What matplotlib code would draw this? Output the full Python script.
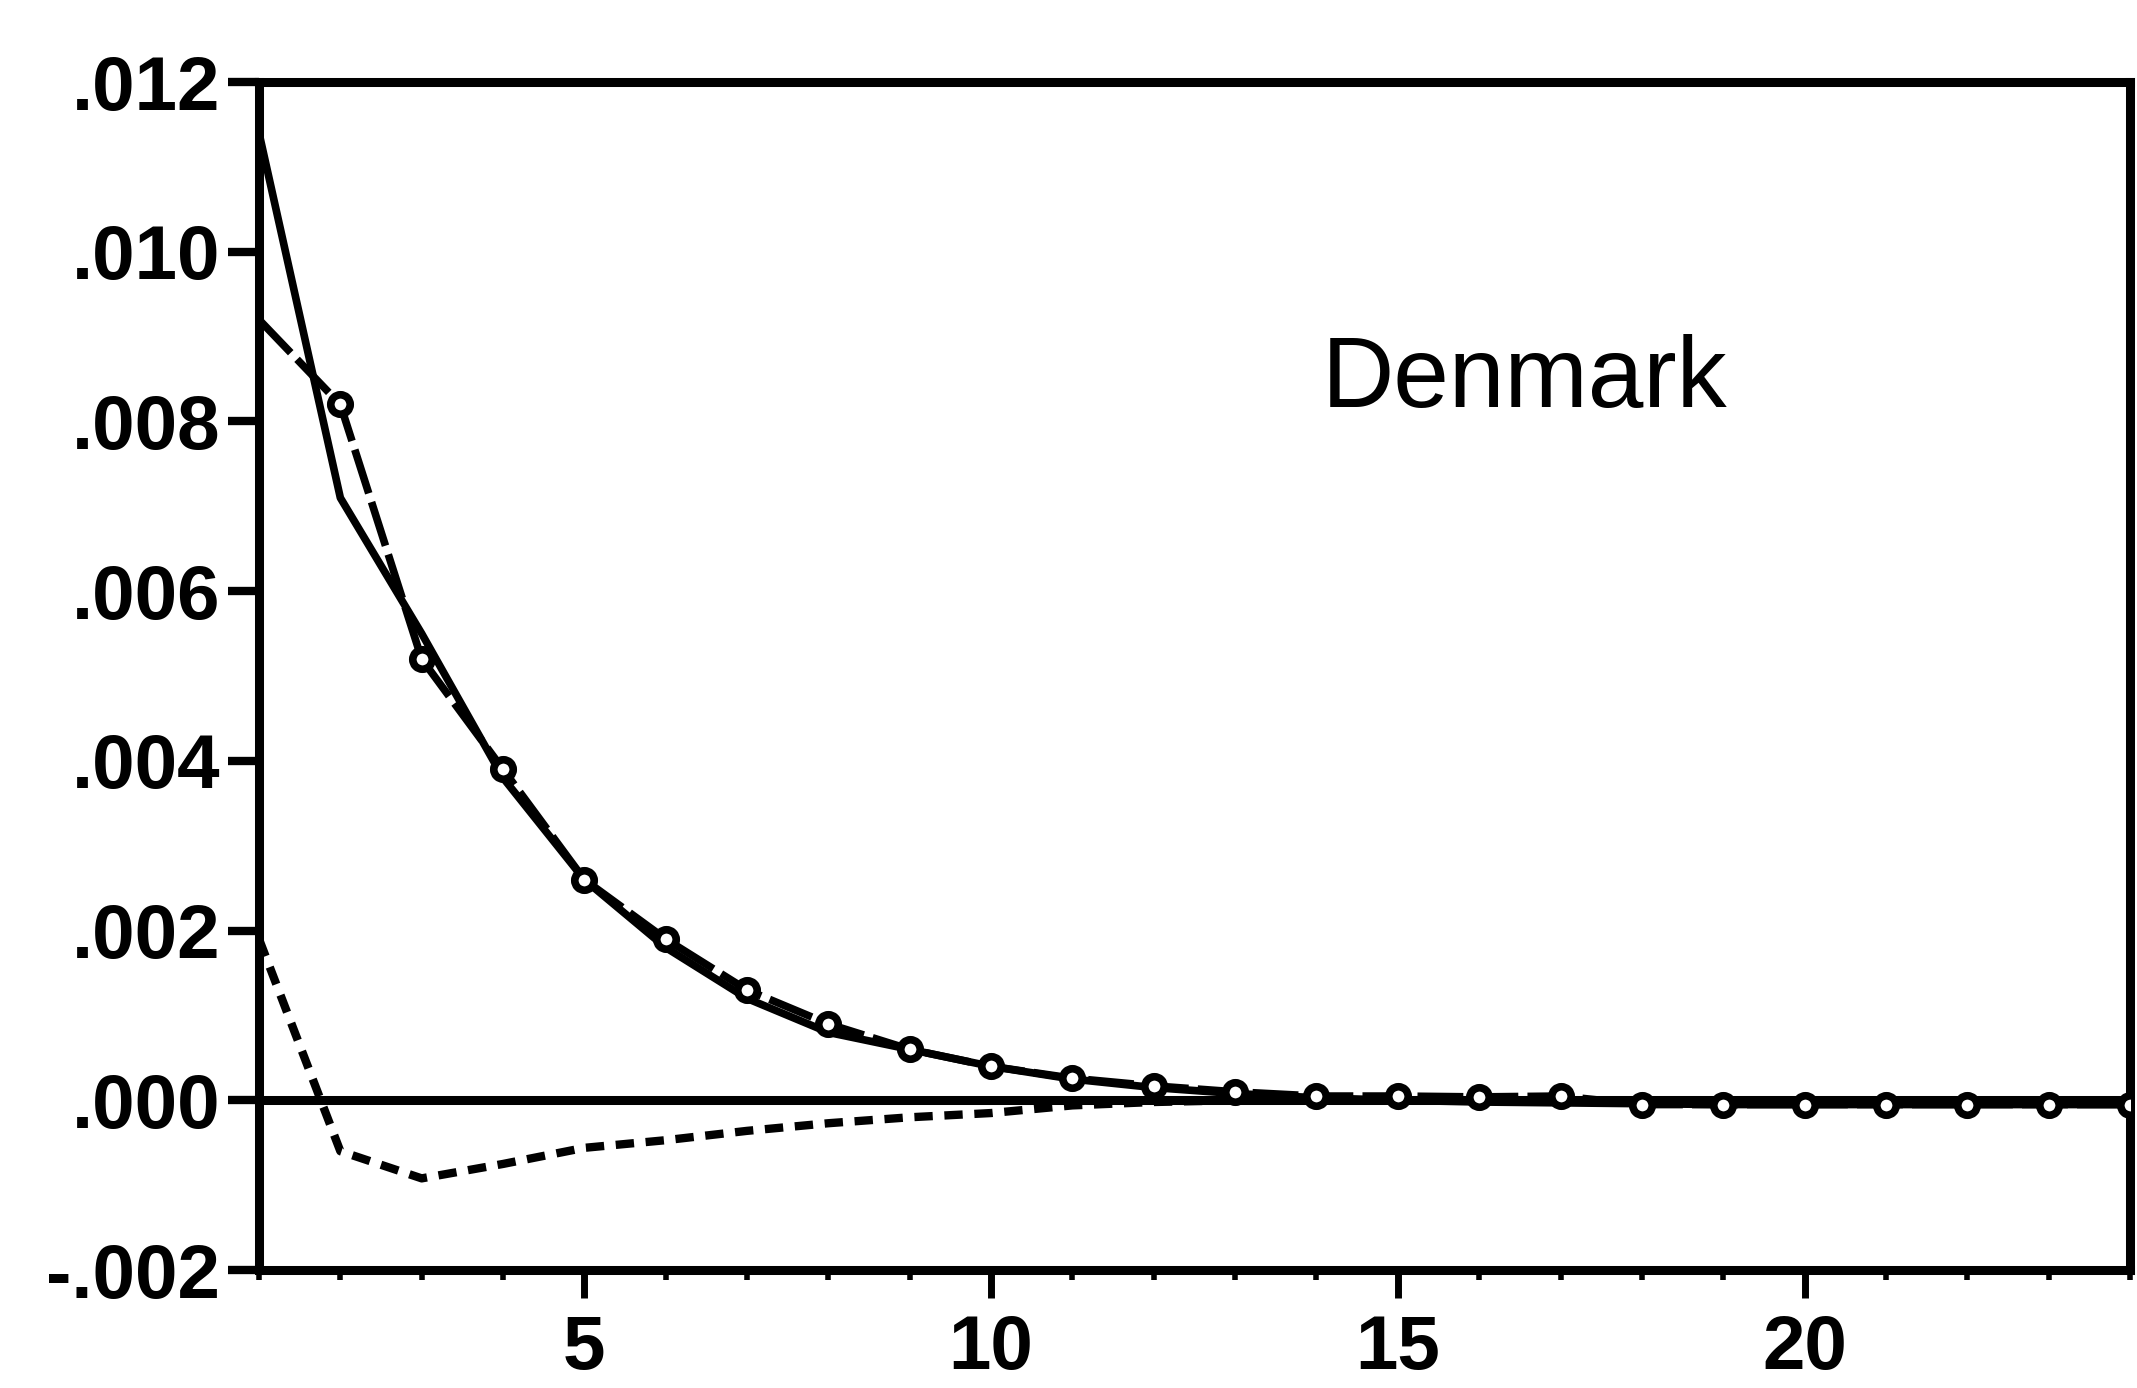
import matplotlib
matplotlib.use('Agg')
import matplotlib.pyplot as plt
from matplotlib.ticker import FixedLocator, FuncFormatter

plt.rcParams['font.family'] = ['Liberation Sans', 'DejaVu Sans']

# impulse responses
periods = list(range(1, 25))
resp_solid = [0.0114, 0.0071, 0.0055, 0.0038, 0.0026, 0.0018, 0.0012, 0.0008,
              0.0006, 0.0004, 0.00025, 0.00015, 0.00008, 0.00003, 0.0, -0.00002,
              -0.00003, -0.00004, -0.00005, -0.00005, -0.00005, -0.00005, -0.00005, -0.00005]
resp_marked = [0.0092, 0.0082, 0.0052, 0.0039, 0.0026, 0.0019, 0.0013, 0.0009,
               0.0006, 0.0004, 0.00026, 0.00017, 0.0001, 0.00005, 0.00005, 0.00004,
               0.00005, -0.00005, -0.00005, -0.00005, -0.00005, -0.00005, -0.00005, -0.00005]
resp_dashed = [0.0019, -0.0006, -0.00092, -0.00075, -0.00056, -0.00047, -0.00036, -0.00027,
               -0.0002, -0.00015, -0.00006, -0.00002, 0.0, 0.0, 0.0, 0.0,
               0.0, 0.0, 0.0, 0.0, 0.0, 0.0, 0.0, 0.0]

y_ticks = [-0.002, 0.000, 0.002, 0.004, 0.006, 0.008, 0.010, 0.012]
x_ticks = [5, 10, 15, 20]
country = 'Denmark'


def short_label(v, pos):
    s = '{:.3f}'.format(v)
    if s.startswith('-0'):
        return '-' + s[2:]
    if s.startswith('0'):
        return s[1:]
    return s


fig = plt.figure(figsize=(21.37, 13.88), dpi=100)
ax = fig.add_axes([0.1212, 0.085, 0.8755, 0.8559])

ax.axhline(0, color='black', lw=6.5, zorder=2)
ax.plot(periods, resp_solid, color='black', lw=5.5, zorder=3)
ax.plot(periods, resp_marked, color='black', lw=5.5, dashes=(6, 1.2),
        marker='o', markersize=14, markerfacecolor='white', markeredgewidth=5.5,
        markevery=range(1, 24), zorder=4)
ax.plot(periods, resp_dashed, color='black', lw=6, dashes=(2.2, 1.4), zorder=3)

ax.set_xlim(1, 24)
ax.set_ylim(-0.002, 0.012)
ax.xaxis.set_major_locator(FixedLocator(x_ticks))
ax.xaxis.set_minor_locator(FixedLocator(periods))
ax.yaxis.set_major_locator(FixedLocator(y_ticks))
ax.yaxis.set_major_formatter(FuncFormatter(short_label))

for side in ['left', 'right', 'top', 'bottom']:
    ax.spines[side].set_linewidth(6.5)

ax.tick_params(axis='y', which='major', direction='out', length=22, width=6,
               pad=6, labelsize=55)
ax.tick_params(axis='x', which='major', direction='out', length=20, width=5,
               pad=12, labelsize=55)
ax.tick_params(axis='x', which='minor', direction='out', length=7, width=4)
for lab in ax.get_xticklabels() + ax.get_yticklabels():
    lab.set_fontweight('bold')

ax.text(0.568, 0.7264, country, transform=ax.transAxes, fontsize=72,
        va='baseline', ha='left')

fig.savefig('out.png', dpi=100)
plt.close(fig)
